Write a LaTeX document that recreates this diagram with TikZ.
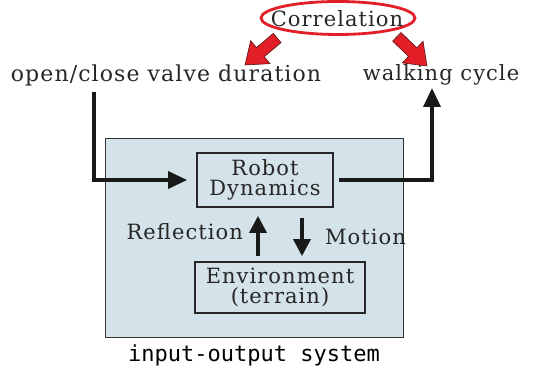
\documentclass[tikz,border=0pt]{standalone}
\usepackage{fontspec}
\setmainfont{DejaVu Serif}[LetterSpace=5]
\newfontfamily\labsans{DejaVu Sans Mono}
\usetikzlibrary{arrows.meta,shapes.geometric}
\definecolor{panelblue}{RGB}{212,226,233}
\definecolor{corrred}{RGB}{226,30,38}
\definecolor{darkred}{RGB}{90,20,20}
\tikzset{
  lbl/.style={font=\fontsize{21}{23}\selectfont, inner sep=0pt, text=black!85},
  boxnode/.style={draw=black!85, line width=1.8pt, align=center, font=\fontsize{21}{23}\selectfont, text=black!85},
  flow/.style={line width=3.6pt, draw=black!90, -{Triangle[length=19pt,width=17pt]}},
  redarr/.style={fill=corrred, draw=darkred, line width=0.6pt}
}
\begin{document}
\begin{tikzpicture}[x=1pt,y=1pt]
\useasboundingbox (0,0) rectangle (540,377);
% panel
\node[draw=black!80, line width=0.8pt, fill=panelblue, minimum width=298pt, minimum height=199pt, inner sep=0pt] (panel) at (254,139.5) {};
% correlation
\node[ellipse, draw=corrred, line width=2.8pt, minimum width=154pt, minimum height=33pt, inner sep=0pt] (corr) at (338,359) {};
\node[lbl] (corrtxt) at (337,358) {Correlation};
% labels
\node[lbl, font=\fontsize{22}{24}\selectfont] (valve) at (166,302) {open/close valve duration};
\node[lbl] (walk) at (441,302) {walking cycle};
% boxes
\node[boxnode, minimum width=136pt, minimum height=54pt, inner sep=0pt] (robot) at (265,197) {Robot\\[-3pt]Dynamics};
\node[boxnode, minimum width=170pt, minimum height=51pt, inner sep=0pt] (env) at (280,89.5) {Environment\\[-3pt](terrain)};
% red arrows
\coordinate (la) at (245,312);
\coordinate (ra) at (427,311);
\begin{scope}[shift={(la)}, rotate=40]
\path[redarr] (0,0) -- (20,15) -- (20,6) -- (42,6) -- (42,-6) -- (20,-6) -- (20,-15) -- cycle;
\end{scope}
\begin{scope}[shift={(ra)}, rotate=136]
\path[redarr] (0,0) -- (20,15) -- (20,6) -- (42,6) -- (42,-6) -- (20,-6) -- (20,-15) -- cycle;
\end{scope}
% input arrow
\coordinate (inturn) at (94,197);
\draw[flow] (94,285) -- (inturn) -- ([xshift=-9pt]robot.west);
% output arrow
\coordinate (outturn) at (432,197);
\draw[flow] ([xshift=5pt]robot.east) -- (outturn) -- (432,289);
% reflection / motion
\draw[flow, -{Triangle[length=17pt,width=17pt]}] ([xshift=-22pt,yshift=5pt]env.north) -- ([xshift=-7pt,yshift=-8pt]robot.south);
\draw[flow, -{Triangle[length=17pt,width=17pt]}] ([xshift=37pt,yshift=-10pt]robot.south) -- ([xshift=22pt,yshift=5pt]env.north);
\node[lbl, anchor=east] (refl) at (243,145) {Reflection};
\node[lbl, anchor=west] (motion) at (325,140) {Motion};
% caption
\node[font=\labsans\fontsize{22}{24}\selectfont, inner sep=0pt] (cap) at (254,22) {input-output system};
\end{tikzpicture}
\end{document}
